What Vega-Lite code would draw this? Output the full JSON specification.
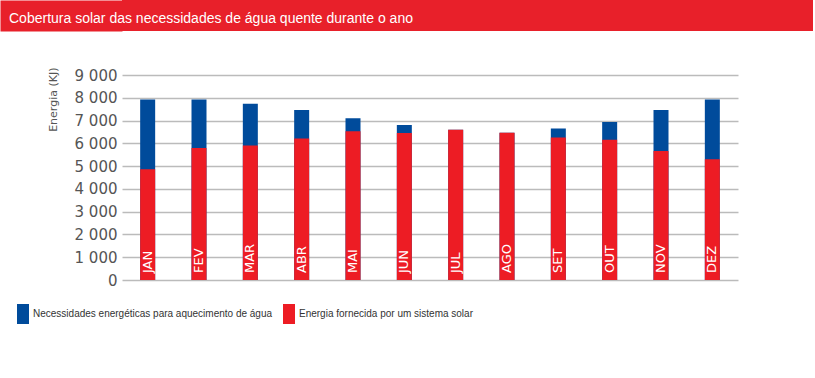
{
  "$schema": "https://vega.github.io/schema/vega-lite/v6.json",
  "padding": 0,
  "background": "white",
  "spacing": 36,
  "columns": 1,
  "align": "none",
  "resolve": {"scale": {"color": "independent", "y": "independent"}, "legend": {"color": "independent"}, "axis": {"y": "independent"}},
  "config": {"view": {"stroke": null}, "font": "DejaVu Sans"},
  "concat": [
    {
      "width": 691,
      "height": 31,
      "view": {"fill": "#e8202a", "stroke": null},
      "data": {"values": [{"t": "Cobertura solar das necessidades de água quente durante o ano"}]},
      "mark": {"type": "text", "align": "left", "baseline": "alphabetic", "dx": -458.5, "dy": 7.5, "color": "white", "font": "Liberation Sans", "fontSize": 14},
      "encoding": {
        "y": {"datum": 0.5, "type": "quantitative", "scale": {"domain": [0, 1]},
              "axis": {"orient": "left", "offset": 61, "domainWidth": 122, "domainColor": "#e8202a", "domainCap": "butt", "labels": false, "ticks": false, "grid": false, "title": null}},
        "text": {"field": "t"}
      }
    },
    {
      "width": 616,
      "height": 205,
      "data": {"values": [
        {"mes": "JAN", "serie": "Necessidades energéticas para aquecimento de água", "valor": 7920},
        {"mes": "FEV", "serie": "Necessidades energéticas para aquecimento de água", "valor": 7920},
        {"mes": "MAR", "serie": "Necessidades energéticas para aquecimento de água", "valor": 7740},
        {"mes": "ABR", "serie": "Necessidades energéticas para aquecimento de água", "valor": 7460},
        {"mes": "MAI", "serie": "Necessidades energéticas para aquecimento de água", "valor": 7100},
        {"mes": "JUN", "serie": "Necessidades energéticas para aquecimento de água", "valor": 6800},
        {"mes": "JUL", "serie": "Necessidades energéticas para aquecimento de água", "valor": 6600},
        {"mes": "AGO", "serie": "Necessidades energéticas para aquecimento de água", "valor": 6470},
        {"mes": "SET", "serie": "Necessidades energéticas para aquecimento de água", "valor": 6650},
        {"mes": "OUT", "serie": "Necessidades energéticas para aquecimento de água", "valor": 6940},
        {"mes": "NOV", "serie": "Necessidades energéticas para aquecimento de água", "valor": 7460},
        {"mes": "DEZ", "serie": "Necessidades energéticas para aquecimento de água", "valor": 7920},
        {"mes": "JAN", "serie": "Energia fornecida por um sistema solar", "valor": 4860},
        {"mes": "FEV", "serie": "Energia fornecida por um sistema solar", "valor": 5800},
        {"mes": "MAR", "serie": "Energia fornecida por um sistema solar", "valor": 5910},
        {"mes": "ABR", "serie": "Energia fornecida por um sistema solar", "valor": 6210},
        {"mes": "MAI", "serie": "Energia fornecida por um sistema solar", "valor": 6530},
        {"mes": "JUN", "serie": "Energia fornecida por um sistema solar", "valor": 6450},
        {"mes": "JUL", "serie": "Energia fornecida por um sistema solar", "valor": 6600},
        {"mes": "AGO", "serie": "Energia fornecida por um sistema solar", "valor": 6470},
        {"mes": "SET", "serie": "Energia fornecida por um sistema solar", "valor": 6260},
        {"mes": "OUT", "serie": "Energia fornecida por um sistema solar", "valor": 6160},
        {"mes": "NOV", "serie": "Energia fornecida por um sistema solar", "valor": 5660},
        {"mes": "DEZ", "serie": "Energia fornecida por um sistema solar", "valor": 5300}
      ]},
      "encoding": {
        "x": {"field": "mes", "type": "nominal", "sort": null, "axis": null, "scale": {"paddingInner": 0, "paddingOuter": 0}}
      },
      "layer": [
        {
          "mark": {"type": "bar", "width": 15},
          "encoding": {
            "y": {
              "field": "valor", "type": "quantitative", "stack": null,
              "scale": {"domain": [0, 9000], "nice": false},
              "axis": {
                "title": "Energia (KJ)",
                "values": [0, 1000, 2000, 3000, 4000, 5000, 6000, 7000, 8000, 9000],
                "tickCount": 10,
                "labelExpr": "replace(format(datum.value, ','), ',', ' ')",
                "labelFontSize": 15, "labelColor": "#555", "labelPadding": 5, "labelOverlap": false,
                "domain": false, "ticks": false,
                "gridColor": "#bbbbbb", "gridWidth": 1.5,
                "titleFontSize": 11, "titleFontWeight": "normal", "titleColor": "#555",
                "titleAngle": -90, "titleAlign": "right", "titleBaseline": "bottom",
                "titleX": -64, "titleY": -8
              }
            },
            "color": {
              "field": "serie", "type": "nominal",
              "scale": {
                "domain": ["Necessidades energéticas para aquecimento de água", "Energia fornecida por um sistema solar"],
                "range": ["#004b9b", "#ed1c24"]
              },
              "legend": {
                "orient": "none", "legendX": -122, "legendY": 216, "padding": 13,
                "direction": "horizontal", "title": null,
                "symbolType": "M-0.6,-1H0.6V1H-0.6Z", "symbolSize": 400, "symbolStrokeWidth": 0,
                "labelFont": "Liberation Sans", "labelFontSize": 10, "labelColor": "#333",
                "labelOffset": 0, "columnPadding": 6, "labelLimit": 400
              }
            }
          }
        },
        {
          "transform": [{"filter": "datum.serie == 'Energia fornecida por um sistema solar'"}],
          "mark": {"type": "text", "angle": 270, "align": "left", "baseline": "middle", "dx": 7, "color": "white", "fontSize": 13},
          "encoding": {
            "y": {
              "datum": 0, "type": "quantitative",
              "axis": {
                "title": "Energia (KJ)",
                "values": [0, 1000, 2000, 3000, 4000, 5000, 6000, 7000, 8000, 9000],
                "tickCount": 10,
                "labelExpr": "replace(format(datum.value, ','), ',', ' ')",
                "labelFontSize": 15, "labelColor": "#555", "labelPadding": 5, "labelOverlap": false,
                "domain": false, "ticks": false,
                "gridColor": "#bbbbbb", "gridWidth": 1.5,
                "titleFontSize": 11, "titleFontWeight": "normal", "titleColor": "#555",
                "titleAngle": -90, "titleAlign": "right", "titleBaseline": "bottom",
                "titleX": -64, "titleY": -8
              }
            },
            "text": {"field": "mes"}
          }
        }
      ]
    }
  ]
}
